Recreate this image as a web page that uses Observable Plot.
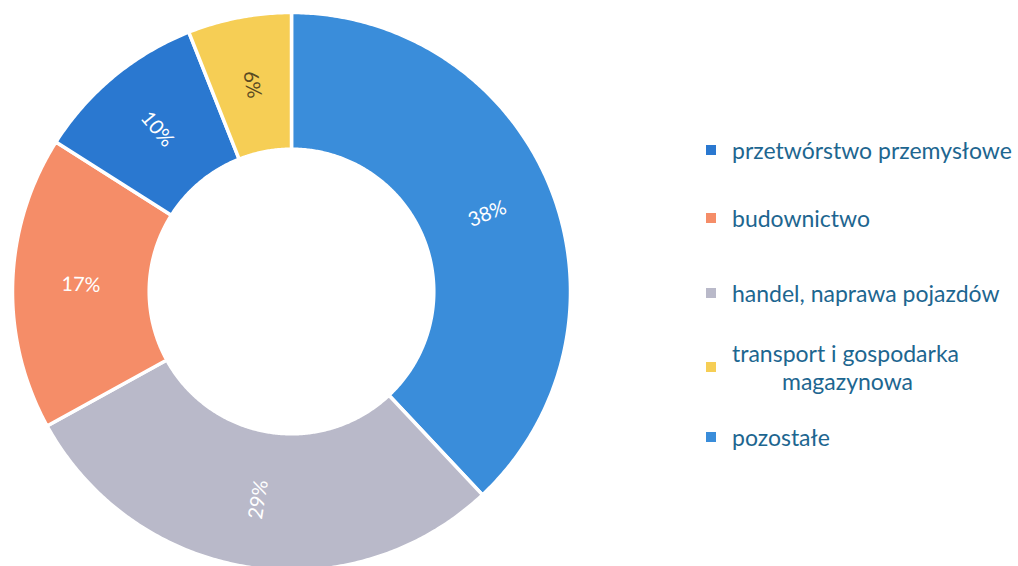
<!DOCTYPE html>
<html><head><meta charset="utf-8">
<script src="https://cdn.jsdelivr.net/npm/d3@7"></script>
<script src="https://cdn.jsdelivr.net/npm/@observablehq/plot@0.6"></script>
<style>
body{margin:0;background:#fff;font-family:Lato,"Open Sans",sans-serif;}
#wrap{position:relative;width:1018px;height:566px;overflow:hidden;}
#legend{position:absolute;left:706px;top:0;width:312px;color:#1d6690;font-size:23px;}
.item{position:absolute;left:0;display:flex;align-items:center;white-space:nowrap;}
.sw{width:10px;height:10px;margin-right:16px;flex:none;}
.lbl{line-height:28px;}
</style></head>
<body><div id="wrap"><div id="chart"></div><div id="legend"></div></div>
<script>
// Slices in clockwise order starting at 12 o'clock
const sliceNames = ["pozostałe","handel, naprawa pojazdów","budownictwo","przetwórstwo przemysłowe","transport i gospodarka magazynowa"];
const sliceValues = [38, 29, 17, 10, 6];
const sliceColors = ["#3a8dda","#b9b9c9","#f58d68","#2a78d0","#f6ce55"];
const labelColors = ["#ffffff","#ffffff","#ffffff","#ffffff","#5a4a22"];
// Legend order
const legendNames = ["przetwórstwo przemysłowe","budownictwo","handel, naprawa pojazdów","transport i gospodarka\nmagazynowa","pozostałe"];
const legendColors = ["#2a78d0","#f58d68","#b9b9c9","#f6ce55","#3a8dda"];

const cx = 291, cy = 291, R = 279, inner = 0.51;
const total = d3.sum(sliceValues);
const pts = [], labels = [];
let acc = 0;
sliceValues.forEach((v, i) => {
  const a0 = acc / total * 2 * Math.PI, a1 = (acc + v) / total * 2 * Math.PI;
  acc += v;
  const n = Math.max(8, Math.ceil((a1 - a0) / (Math.PI / 360)));
  const ring = [];
  for (let k = 0; k <= n; k++) { const a = a0 + (a1 - a0) * k / n; ring.push([Math.sin(a), Math.cos(a)]); }
  for (let k = n; k >= 0; k--) { const a = a0 + (a1 - a0) * k / n; ring.push([inner * Math.sin(a), inner * Math.cos(a)]); }
  ring.push(ring[0]);
  ring.forEach(([x, y]) => pts.push({x, y, name: sliceNames[i]}));
  const mid = (a0 + a1) / 2, rr = (1 + inner) / 2;
  let rot = mid * 180 / Math.PI - 90;
  if (rot > 90) rot -= 180;
  labels.push({x: rr * Math.sin(mid), y: rr * Math.cos(mid), text: v + "%", rot, color: labelColors[i]});
});

const chart = Plot.plot({
  width: 1018, height: 566, margin: 0,
  x: {domain: [-1, 1], range: [cx - R, cx + R], axis: null},
  y: {domain: [-1, 1], range: [cy + R, cy - R], axis: null},
  color: {domain: sliceNames, range: sliceColors},
  style: {background: "transparent"},
  marks: [
    Plot.line(pts, {x: "x", y: "y", z: "name", fill: "name", stroke: "#fff", strokeWidth: 3.5, strokeLinejoin: "round", curve: "linear"}),
    Plot.text(labels, {x: "x", y: "y", text: "text", rotate: "rot", fill: d => d.color, fontSize: 20, fontFamily: "Lato, 'Open Sans', sans-serif"})
  ]
});
document.getElementById("chart").appendChild(chart);

const legendTops = [150, 218, 293, 367, 437];
const lg = document.getElementById("legend");
legendNames.forEach((n, i) => {
  const it = document.createElement("div");
  it.className = "item";
  const lines = n.split("\n");
  it.style.top = (legendTops[i] - lines.length * 28 / 2) + "px";
  const sw = document.createElement("div"); sw.className = "sw"; sw.style.background = legendColors[i];
  const lb = document.createElement("div"); lb.className = "lbl";
  lb.innerHTML = lines.map((l, j) => j ? `<div style="padding-left:50px">${l}</div>` : `<div>${l}</div>`).join("");
  it.appendChild(sw); it.appendChild(lb); lg.appendChild(it);
});
</script></body></html>
